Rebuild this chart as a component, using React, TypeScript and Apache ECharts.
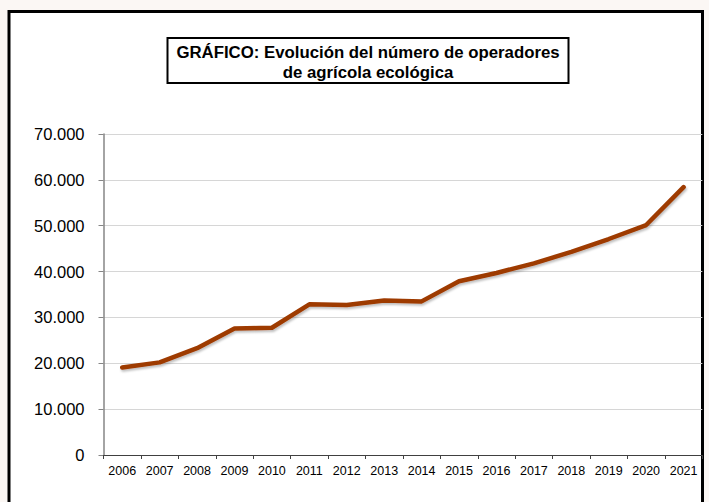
import React, { useEffect, useRef } from "react";
import * as echarts from "echarts";

const years = ["2006","2007","2008","2009","2010","2011","2012","2013","2014","2015","2016","2017","2018","2019","2020","2021"];
const operators = [19100, 20200, 23300, 27600, 27750, 32850, 32700, 33700, 33500, 37900, 39700, 41800, 44300, 47100, 50150, 58400];
const yTicks = [0, 10000, 20000, 30000, 40000, 50000, 60000, 70000];
const titleLines = ["GRÁFICO: Evolución del número de operadores", "de agrícola ecológica"];

const fmt = (v: number) => String(v).replace(/\B(?=(\d{3})+(?!\d))/g, ".");

export default function App() {
  const ref = useRef<HTMLDivElement>(null);
  useEffect(() => {
    document.body.style.margin = "0";
    const chart = echarts.init(ref.current!, null, { renderer: "svg" });
    chart.setOption({
      animation: false,
      backgroundColor: "#fbf7f4",
      graphic: [
        { type: "rect", shape: { x: 9, y: 11.5, width: 693.5, height: 500 }, style: { fill: "#ffffff", stroke: "#000000", lineWidth: 3 }, z: -10 },
        { type: "rect", shape: { x: 167.5, y: 38, width: 401, height: 45 }, style: { fill: "#ffffff", stroke: "#000000", lineWidth: 2 }, z: 10 },
        { type: "text", x: 368, y: 52, style: { text: titleLines[0], fontFamily: "Liberation Sans, Arial, sans-serif", fontWeight: "bold", fontSize: 16.8, fill: "#000", align: "center", verticalAlign: "middle" }, z: 11 },
        { type: "text", x: 368, y: 72, style: { text: titleLines[1], fontFamily: "Liberation Sans, Arial, sans-serif", fontWeight: "bold", fontSize: 16.8, fill: "#000", align: "center", verticalAlign: "middle" }, z: 11 },
      ],
      grid: { left: 103.5, right: 6.7, top: 134, bottom: 47, containLabel: false },
      xAxis: {
        type: "category",
        data: years,
        boundaryGap: true,
        axisLine: { lineStyle: { color: "#404040", width: 1 } },
        axisTick: { show: true, length: 4, lineStyle: { color: "#404040" } },
        axisLabel: { color: "#000", fontSize: 12.5, fontFamily: "Liberation Sans, Arial, sans-serif", margin: 9, interval: 0 },
      },
      yAxis: {
        type: "value",
        min: 0,
        max: yTicks[yTicks.length - 1],
        interval: yTicks[1] - yTicks[0],
        axisLine: { show: true, lineStyle: { color: "#868686", width: 1.5 } },
        axisTick: { show: true, length: 5, lineStyle: { color: "#868686" } },
        splitLine: { show: true, lineStyle: { color: "#d6d6d6", width: 1 } },
        axisLabel: { color: "#000", fontSize: 16.5, fontFamily: "Liberation Sans, Arial, sans-serif", margin: 19, formatter: (v: number) => fmt(v) },
      },
      series: [
        {
          type: "line",
          data: operators,
          symbol: "none",
          lineStyle: { color: "#9e3a06", width: 4.5, cap: "round", join: "round", shadowColor: "rgba(0,0,0,0.25)", shadowBlur: 2, shadowOffsetX: 1, shadowOffsetY: 2 },
          itemStyle: { color: "#9e3a06" },
        },
      ],
    });
    return () => chart.dispose();
  }, []);
  return <div ref={ref} style={{ position: "absolute", left: 0, top: 0, width: 709, height: 502 }} />;
}
